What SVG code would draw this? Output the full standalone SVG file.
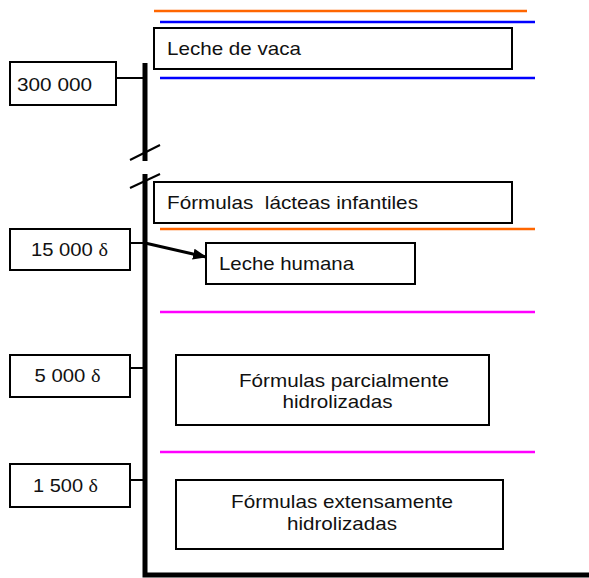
<svg xmlns="http://www.w3.org/2000/svg" width="589" height="578" viewBox="0 0 589 578">
<defs>
<style>
.box{fill:#fff;stroke:#000;stroke-width:2}
.t{font-family:"Liberation Sans",Arial,sans-serif;font-size:19px;fill:#111}
.d{font-family:"Liberation Serif","Times New Roman",serif}
.axis{stroke:#000;stroke-width:5;fill:none}
.tick{stroke:#000;stroke-width:2;fill:none}
.or{stroke:#FF6600;stroke-width:2.5}
.bl{stroke:#0000FF;stroke-width:2.5}
.mg{stroke:#FF00FF;stroke-width:2.5}
</style>
<marker id="ah" markerWidth="14" markerHeight="11" refX="13" refY="5.5" orient="auto" markerUnits="userSpaceOnUse">
<path d="M0,0 L14,5.5 L0,11 z" fill="#000"/>
</marker>
</defs>
<rect width="589" height="578" fill="#fff"/>
<g id="connectors">
<line class="or" x1="154" y1="11" x2="527" y2="11"/>
<line class="bl" x1="160" y1="22" x2="535" y2="22"/>
<line class="bl" x1="160" y1="78" x2="535" y2="78"/>
<line class="or" x1="160" y1="229" x2="535" y2="229"/>
<line class="mg" x1="160" y1="312" x2="535" y2="312"/>
<line class="mg" x1="160" y1="452" x2="535" y2="452"/>
<path class="axis" d="M145,63 V161"/>
<path class="axis" d="M145,174 V575 H589"/>
<line class="tick" x1="130" y1="160" x2="160" y2="145"/>
<line class="tick" x1="130" y1="188" x2="160" y2="174"/>
<line class="tick" x1="116" y1="78" x2="145" y2="78"/>
<line class="tick" x1="130" y1="243" x2="145" y2="243"/>
<line class="tick" x1="130" y1="368" x2="145" y2="368"/>
<line class="tick" x1="130" y1="480" x2="145" y2="480"/>
<line x1="145" y1="243" x2="206" y2="257" stroke="#000" stroke-width="3" marker-end="url(#ah)"/>
</g>
<g id="n300000"><rect class="box" x="10" y="62" width="106" height="43"/><text class="t" x="17" y="91" textLength="75" lengthAdjust="spacingAndGlyphs">300 000</text></g>
<g id="n15000"><rect class="box" x="10" y="229" width="120" height="41"/><text class="t" x="31" y="256" textLength="77" lengthAdjust="spacingAndGlyphs">15 000 <tspan class="d">δ</tspan></text></g>
<g id="n5000"><rect class="box" x="10" y="355" width="120" height="42"/><text class="t" x="34.5" y="382" textLength="66" lengthAdjust="spacingAndGlyphs">5 000 <tspan class="d">δ</tspan></text></g>
<g id="n1500"><rect class="box" x="10" y="464" width="120" height="43"/><text class="t" x="33" y="492" textLength="65" lengthAdjust="spacingAndGlyphs">1 500 <tspan class="d">δ</tspan></text></g>
<g id="vaca"><rect class="box" x="154" y="28" width="358" height="41"/><text class="t" x="167" y="55" textLength="134" lengthAdjust="spacingAndGlyphs">Leche de vaca</text></g>
<g id="formulas"><rect class="box" x="154" y="182" width="358" height="41"/><text class="t" x="167" y="209" xml:space="preserve" textLength="251" lengthAdjust="spacingAndGlyphs">Fórmulas  lácteas infantiles</text></g>
<g id="humana"><rect class="box" x="206" y="243" width="209" height="41"/><text class="t" x="219" y="270" textLength="135" lengthAdjust="spacingAndGlyphs">Leche humana</text></g>
<g id="parcial"><rect class="box" x="176" y="355" width="313" height="70"/><text class="t" x="239" y="387" textLength="210" lengthAdjust="spacingAndGlyphs">Fórmulas parcialmente</text><text class="t" x="282.5" y="408" textLength="110" lengthAdjust="spacingAndGlyphs">hidrolizadas</text></g>
<g id="extensa"><rect class="box" x="176" y="480" width="327" height="69"/><text class="t" x="231" y="508" textLength="222" lengthAdjust="spacingAndGlyphs">Fórmulas extensamente</text><text class="t" x="287" y="530" textLength="110" lengthAdjust="spacingAndGlyphs">hidrolizadas</text></g>
</svg>
